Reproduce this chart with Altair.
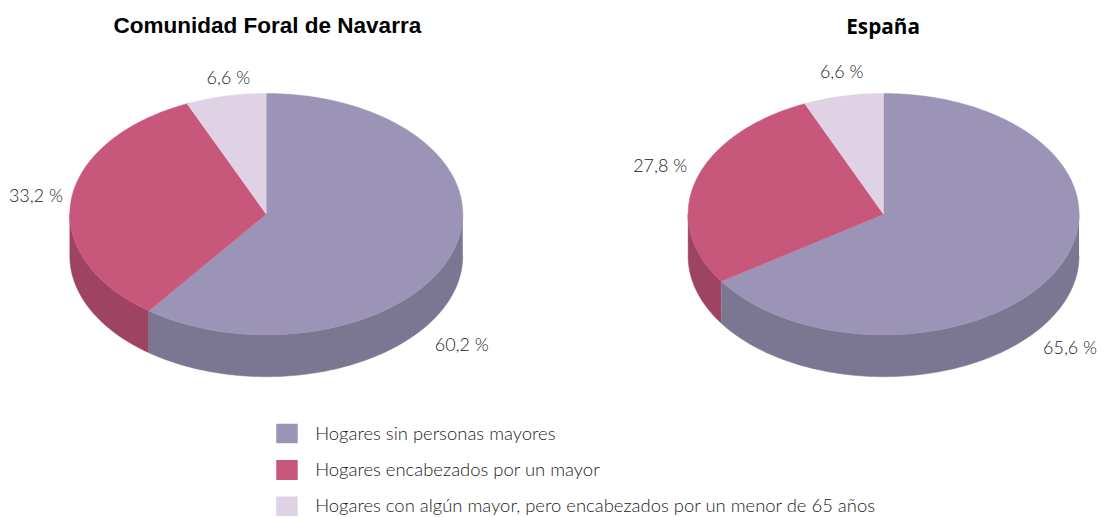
import numpy as np
import pandas as pd
import altair as alt

# --- values ---
PIES = ["Comunidad Foral de Navarra", "España"]
CATEGORIES = [
    "Hogares sin personas mayores",
    "Hogares encabezados por un mayor",
    "Hogares con algún mayor, pero encabezados por un menor de 65 años",
]
NAVARRA = [60.2, 33.2, 6.6]
ESPANA = [65.6, 27.8, 6.6]
VALUES = {PIES[0]: NAVARRA, PIES[1]: ESPANA}

# --- layout & style (page pixels minus the 8px margin) ---
W, H = 1090, 509
GEOM = {PIES[0]: (258, 206, 197, 121), PIES[1]: (877, 206, 196, 121)}
DEPTH = 42
TOP_COL = ["#9B94B7", "#C7587C", "#E0D2E5"]
WALL_COL = ["#7B7692", "#9F4362", "#B0A5B8"]
TITLE_POS = {PIES[0]: (259, 17.5), PIES[1]: (876.5, 19)}
TITLE_FONT = {PIES[0]: ("Liberation Sans", 22.6), PIES[1]: ("Open Sans", 20.8)}
LABEL_POS = {
    PIES[0]: [(454, 338), (27, 189), (220, 70.5)],
    PIES[1]: [(1064, 341), (653, 158.5), (835, 64)],
}


def fmt(v):
    return f"{v:.1f}".replace(".", ",") + " %"


top_rows, wall_rows, label_rows = [], [], []
for pie in PIES:
    cx, cy, rx, ry = GEOM[pie]
    start = 0.0
    for k, (cat, v) in enumerate(zip(CATEGORIES, VALUES[pie])):
        end = start + v / 100 * 360
        angles = np.radians(np.arange(start, end + 0.5, 1.0))
        angles = np.append(angles, np.radians(end))
        pts = [(cx, cy)] + [(cx + rx * np.sin(a), cy - ry * np.cos(a)) for a in angles]
        for i, (x, y) in enumerate(pts):
            top_rows.append(dict(pie=pie, cat=cat, i=i, x=x, y=y))
        lo, hi = max(start, 90.0), min(end, 270.0)
        if hi > lo:
            w = np.radians(np.append(np.arange(lo, hi, 1.0), hi))
            outer = [(cx + rx * np.sin(a), cy - ry * np.cos(a)) for a in w]
            lower = [(x, y + DEPTH) for x, y in reversed(outer)]
            for i, (x, y) in enumerate(outer + lower):
                wall_rows.append(dict(pie=pie, cat=cat, k=k, i=i, x=x, y=y))
        lx, ly = LABEL_POS[pie][k]
        label_rows.append(dict(x=lx, y=ly, t=fmt(v)))
        start = end

top = pd.DataFrame(top_rows)
wall = pd.DataFrame(wall_rows)
labels = pd.DataFrame(label_rows)

X = alt.X("x:Q", scale=alt.Scale(domain=[0, W], range=[0, W], nice=False, zero=False), axis=None)
Y = alt.Y("y:Q", scale=alt.Scale(domain=[0, H], range=[0, H], nice=False, zero=False), axis=None)

layers = []
for k in (1, 0):
    sub = wall[wall.k == k]
    layers.append(
        alt.Chart(sub).mark_line(fill=WALL_COL[k], stroke=WALL_COL[k], strokeWidth=0.5, interpolate="linear")
        .encode(x=X, y=Y, detail="pie:N", order="i:Q")
    )

cat_scale = alt.Scale(domain=CATEGORIES, range=TOP_COL)
legend = alt.Legend(
    title=None,
    orient="none",
    legendX=268,
    legendY=416,
    symbolType="M-1.15,-1H1.15V1H-1.15Z",
    symbolSize=400,
    symbolStrokeWidth=0,
    symbolOpacity=1,
    rowPadding=16.5,
    labelFont="Lato",
    labelFontWeight=300,
    labelFontSize=18.5,
    labelColor="#222222",
    labelLimit=700,
    labelOffset=19,
    clipHeight=20,
)
layers.append(
    alt.Chart(top).mark_line(strokeWidth=0.5, interpolate="linear").encode(
        x=X, y=Y, detail="pie:N", order="i:Q",
        fill=alt.Fill("cat:N", scale=cat_scale, sort=CATEGORIES, legend=legend),
        stroke=alt.Stroke("cat:N", scale=cat_scale, sort=CATEGORIES, legend=None),
    )
)
layers.append(
    alt.Chart(labels).mark_text(font="Lato", fontWeight=300, fontSize=18, color="#222222", align="center", baseline="middle")
    .encode(x=X, y=Y, text="t:N")
)
for pie in PIES:
    tx, ty = TITLE_POS[pie]
    layers.append(
        alt.Chart(pd.DataFrame([dict(x=tx, y=ty, t=pie)])).mark_text(
            font=TITLE_FONT[pie][0], fontWeight="bold", fontSize=TITLE_FONT[pie][1], color="#000000",
            align="center", baseline="middle",
        ).encode(x=X, y=Y, text="t:N")
    )

chart = alt.layer(*layers).properties(width=W, height=H, padding=0).configure_view(stroke=None)
chart.save("out.html", embed_options={"renderer": "svg", "actions": False})
